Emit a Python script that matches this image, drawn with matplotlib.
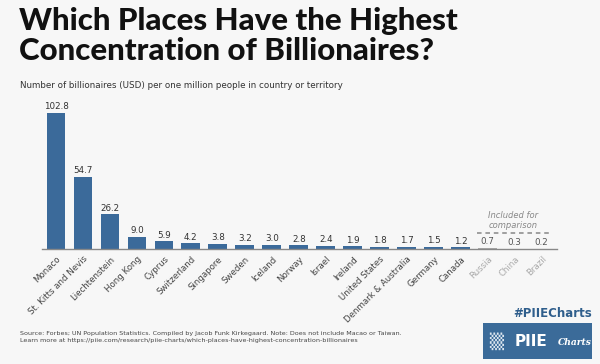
import matplotlib
matplotlib.use('Agg')
from matplotlib import pyplot as plt
from matplotlib.patches import Rectangle

places = ['Monaco', 'St. Kitts and Nevis', 'Liechtenstein', 'Hong Kong', 'Cyprus',
          'Switzerland', 'Singapore', 'Sweden', 'Iceland', 'Norway', 'Israel', 'Ireland',
          'United States', 'Denmark & Australia', 'Germany', 'Canada',
          'Russia', 'China', 'Brazil']
values = [102.8, 54.7, 26.2, 9.0, 5.9, 4.2, 3.8, 3.2, 3.0, 2.8, 2.4, 1.9,
          1.8, 1.7, 1.5, 1.2, 0.7, 0.3, 0.2]
comparison = ['Russia', 'China', 'Brazil']

blue = '#3b6a9a'
grey = '#a9a9a9'

plt.rcParams['font.family'] = ['DejaVu Sans']

fig = plt.figure(figsize=(6, 3.64), dpi=100)
fig.patch.set_facecolor('#f7f7f7')

fig.text(0.032, 0.98, 'Which Places Have the Highest\nConcentration of Billionaires?',
         fontsize=22.5, fontweight='black', va='top', ha='left', color='#111111',
         linespacing=1.07, family=['Lato', 'DejaVu Sans'])
fig.text(0.033, 0.765, 'Number of billionaires (USD) per one million people in country or territory',
         fontsize=6.3, va='center', ha='left', color='#333333')

ax = fig.add_axes([0.07, 0.316, 0.858, 0.409])
ax.set_facecolor('none')

x = list(range(len(places)))
colors = [grey if p in comparison else blue for p in places]
ax.bar(x, values, width=0.7, color=colors)

for xi, v, p in zip(x, values, places):
    ax.text(xi, v + 1.2, f'{v:.1f}', ha='center', va='bottom', fontsize=6.3,
            color='#555555' if p in comparison else '#333333')

ax.set_xlim(-0.52, 18.56)
ax.set_ylim(0, 112.6)
ax.set_xticks(x)
ax.set_xticklabels(places, rotation=45, ha='right', rotation_mode='anchor', fontsize=6.2)
for lbl, p in zip(ax.get_xticklabels(), places):
    lbl.set_color(grey if p in comparison else '#444444')
ax.tick_params(axis='x', length=0, pad=4)
ax.set_yticks([])
for s in ['top', 'right', 'left']:
    ax.spines[s].set_visible(False)
ax.spines['bottom'].set_color('#888888')
ax.spines['bottom'].set_linewidth(1)

# comparison bracket
ax.plot([15.6, 18.3], [12.3, 12.3], color='#888888', linestyle=(0, (3, 2.5)), linewidth=1.1,
        clip_on=False)
ax.text(16.95, 14.5, 'Included for\ncomparison', ha='center', va='bottom', fontsize=6,
        style='italic', color='#888888', linespacing=1.1)

fig.text(0.033, 0.074, 'Source: Forbes; UN Population Statistics. Compiled by Jacob Funk Kirkegaard. '
         'Note: Does not include Macao or Taiwan.\n'
         'Learn more at https://piie.com/research/piie-charts/which-places-have-highest-concentration-billionaires',
         fontsize=4.55, va='center', ha='left', color='#444444', linespacing=1.6)

fig.text(0.987, 0.14, '#PIIECharts', fontsize=8.5, fontweight='bold', color='#2f5e8c',
         ha='right', va='center')
fig.patches.append(Rectangle((0.805, 0.014), 0.182, 0.098, transform=fig.transFigure,
                             facecolor='#3b6b99', edgecolor='none'))
fig.text(0.815, 0.063, '\u2592', fontsize=13, color='#dbe5ef', ha='left', va='center')
fig.text(0.857, 0.063, 'PIIE', fontsize=11, fontweight='bold', color='white',
         ha='left', va='center')
fig.text(0.93, 0.058, 'Charts', fontsize=6.6, style='italic', fontweight='bold',
         color='white', ha='left', va='center', family=['DejaVu Serif'])

fig.savefig('out.png', dpi=100, facecolor=fig.get_facecolor())
